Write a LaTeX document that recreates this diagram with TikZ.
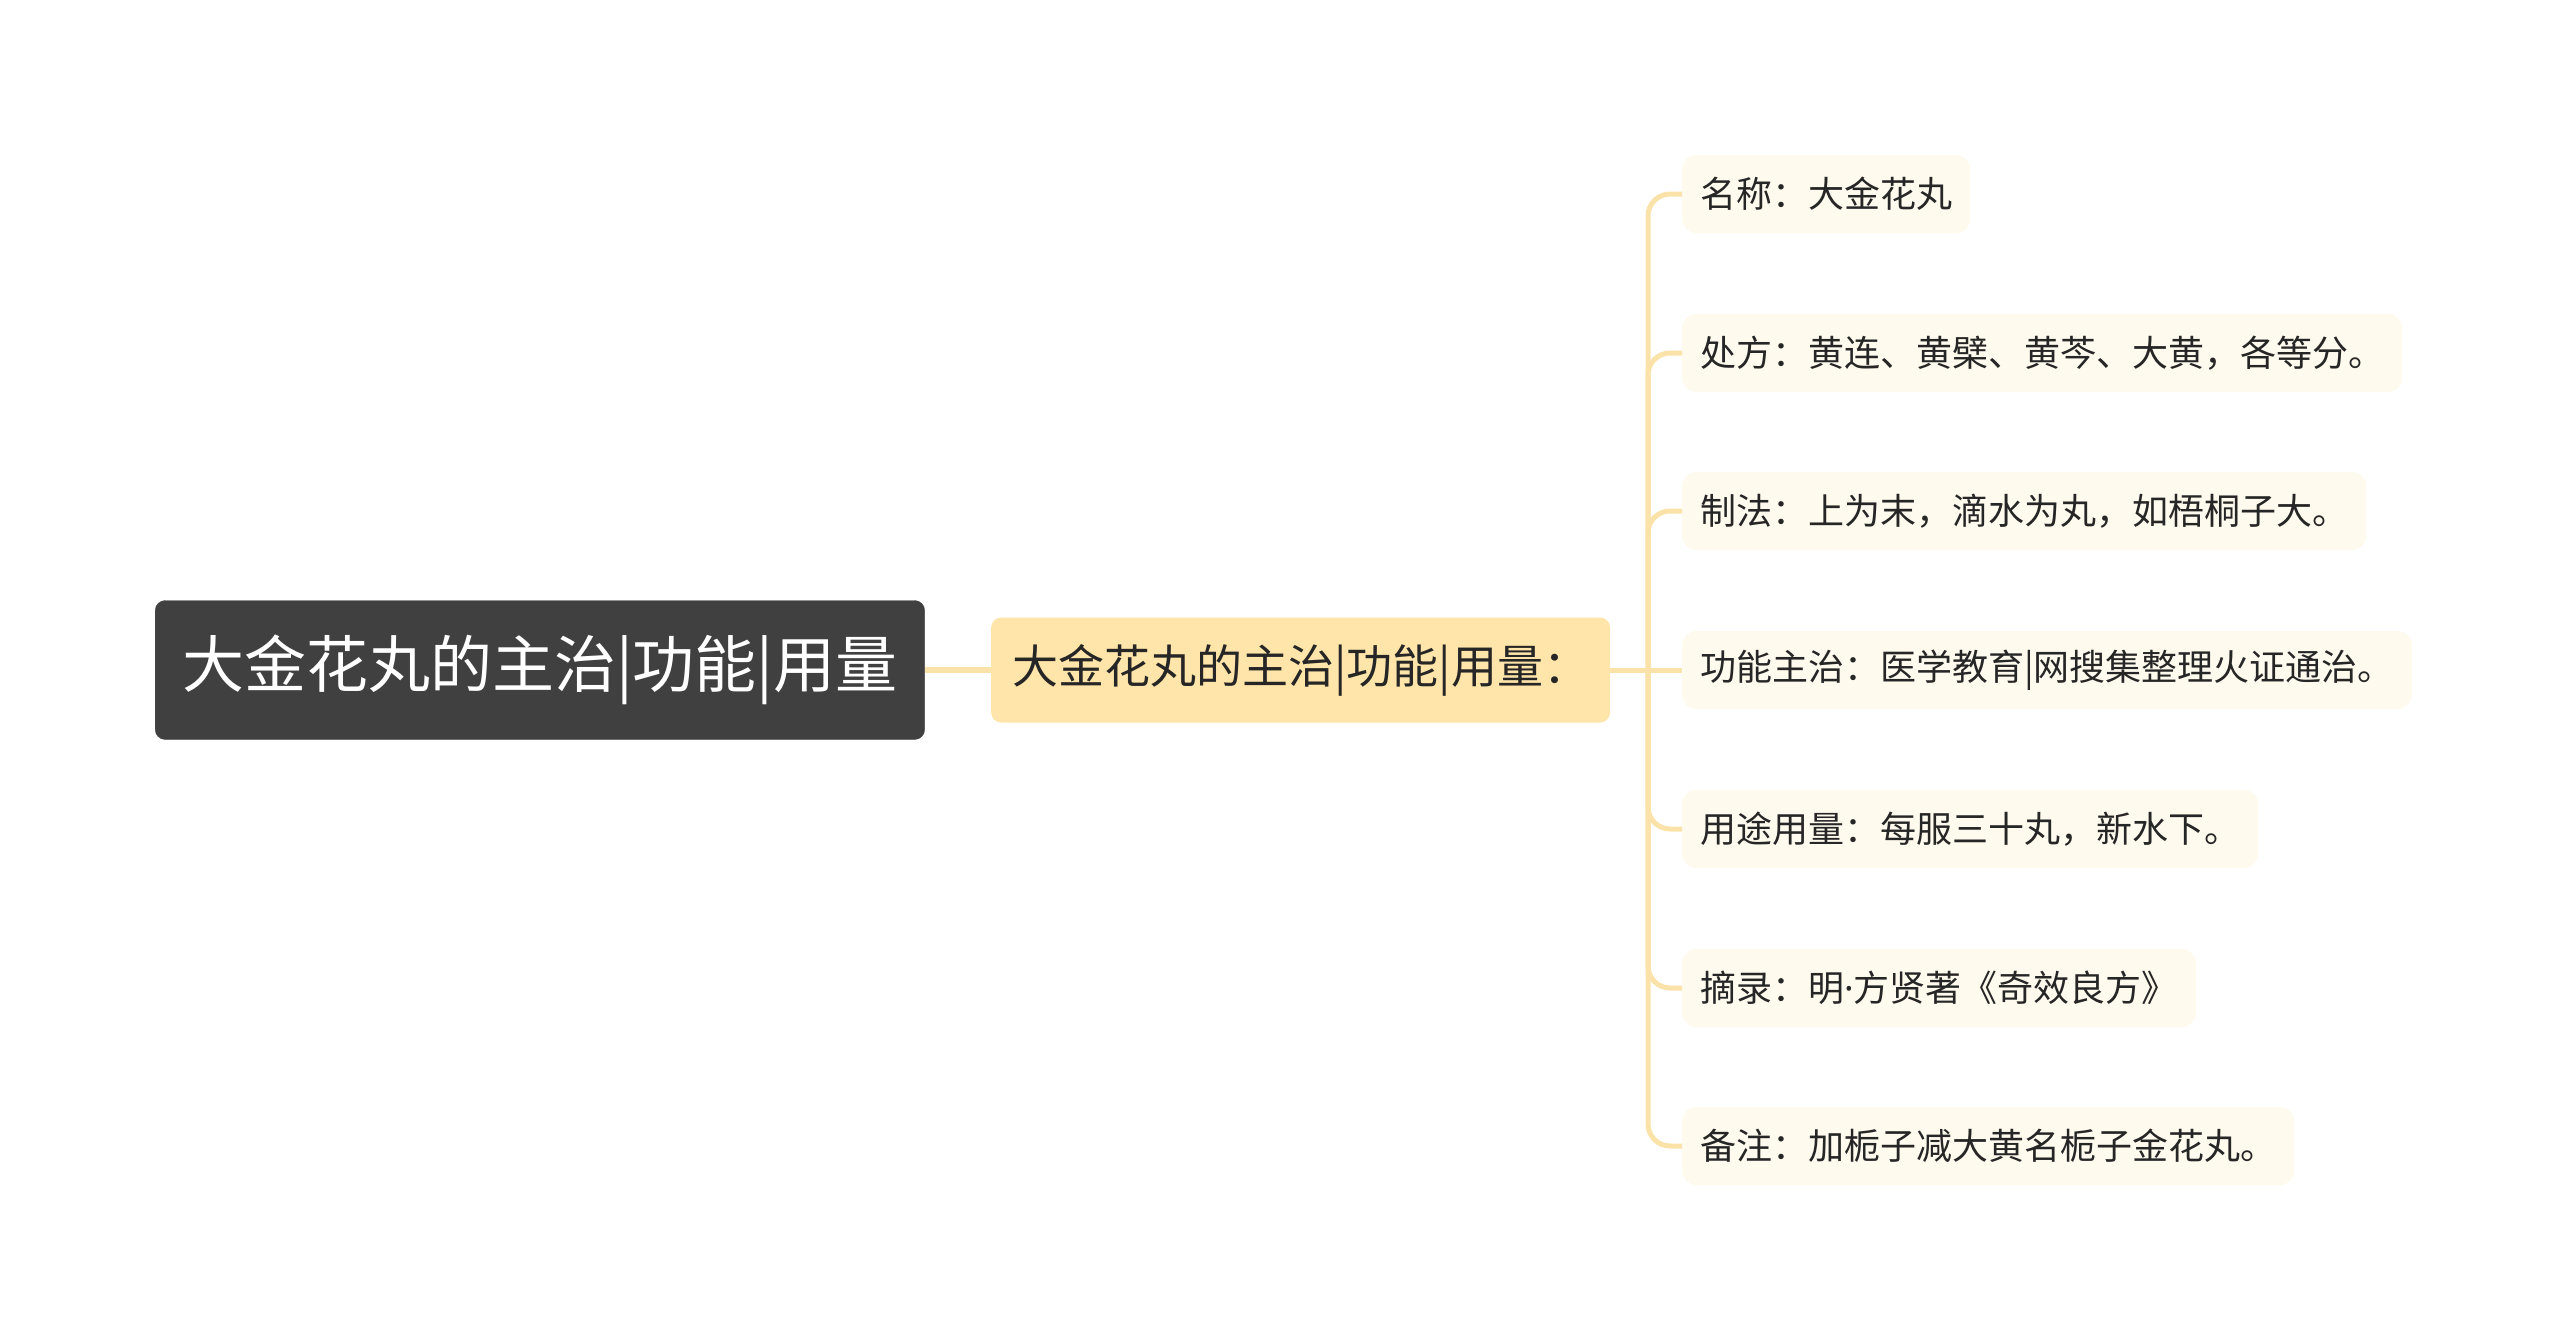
\documentclass[tikz,border=0pt]{standalone}
\usepackage{fontspec}
\setmainfont{Noto Sans CJK SC}
\newfontfamily\latinfont{Noto Sans}
\usetikzlibrary{positioning}
\definecolor{rootgray}{HTML}{404040}
\definecolor{subyellow}{HTML}{FFE5A9}
\definecolor{leafcream}{HTML}{FFFAEE}
\definecolor{linkyellow}{HTML}{FAE2A9}
\definecolor{textdark}{HTML}{262626}

\begin{document}
\begin{tikzpicture}[x=1pt,y=-1pt,inner sep=0pt,
  root/.style={rectangle,rounded corners=10pt,fill=rootgray,draw=black!70,
    text=white,font=\fontsize{62}{70}\selectfont,minimum height=139pt,inner xsep=27pt},
  sub/.style={rectangle,rounded corners=10pt,fill=subyellow,text=textdark,
    font=\fontsize{46}{52}\selectfont,minimum height=105pt,inner xsep=21pt},
  leaf/.style={rectangle,rounded corners=14pt,fill=leafcream,text=textdark,
    font=\fontsize{36}{43}\selectfont,minimum height=78pt,inner xsep=18pt,anchor=west},
  link/.style={draw=linkyellow,line width=5pt}]
  \useasboundingbox (0,0) rectangle (2560,1341);
  % main topics
  \node[root,anchor=west] (topic) at (155,670) {大金花丸的主治|功能|用量};
  \node[sub,anchor=west] (detail) at (991,670) {大金花丸的主治|功能|用量：};
  \coordinate (fork) at (1648,670);
  % details
  \node[leaf] (name) at (1682,194) {名称：大金花丸};
  \node[leaf] (recipe) at (1682,353) {处方：黄连、黄檗、黄芩、大黄，各等分。};
  \node[leaf] (making) at (1682,511) {制法：上为末，滴水为丸，如梧桐子大。};
  \node[leaf] (usage) at (1682,670) {功能主治：医学教育|网搜集整理火证通治。};
  \node[leaf] (dose) at (1682,829) {用途用量：每服三十丸，新水下。};
  \node[leaf] (source) at (1682,988) {摘录：明{\latinfont ·}方贤著《奇效良方》};
  \node[leaf] (note) at (1682,1146) {备注：加栀子减大黄名栀子金花丸。};
  % links
  \draw[link,line width=6pt] (topic) -- (detail);
  \draw[link] (detail) -- (fork);
  \draw[link,rounded corners=22pt] (fork) |- (name.west);
  \draw[link,rounded corners=22pt] (fork) |- (recipe.west);
  \draw[link,rounded corners=22pt] (fork) |- (making.west);
  \draw[link] (fork) -- (usage.west);
  \draw[link,rounded corners=22pt] (fork) |- (dose.west);
  \draw[link,rounded corners=22pt] (fork) |- (source.west);
  \draw[link,rounded corners=22pt] (fork) |- (note.west);
\end{tikzpicture}
\end{document}
